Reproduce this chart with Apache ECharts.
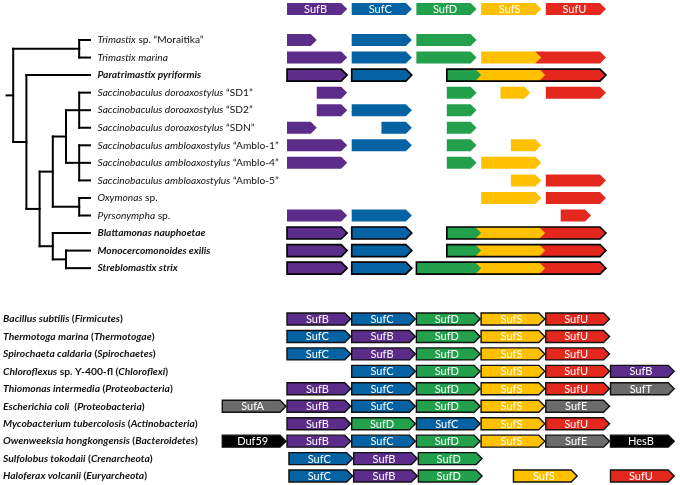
<!DOCTYPE html>
<html><head><meta charset="utf-8">
<script src="https://cdn.jsdelivr.net/npm/echarts@6/dist/echarts.min.js"></script>
<style>html,body{margin:0;padding:0;background:#fff}#c{width:680px;height:485px}</style>
</head><body><div id="c"></div>
<script>
// ---------------- DATA ----------------
const geneNames = ['SufB','SufC','SufD','SufS','SufU','SufE','SufT','SufA','Duf59','HesB'];
const headerGenes = ['SufB','SufC','SufD','SufS','SufU'];

const eukTaxa = [
  '{i|Trimastix} sp. “Moraitika”',
  '{i|Trimastix marina}',
  '{bi|Paratrimastix pyriformis}',
  '{i|Saccinobaculus doroaxostylus} “SD1”',
  '{i|Saccinobaculus doroaxostylus} “SD2”',
  '{i|Saccinobaculus doroaxostylus} “SDN”',
  '{i|Saccinobaculus ambloaxostylus} “Amblo-1”',
  '{i|Saccinobaculus ambloaxostylus} “Amblo-4”',
  '{i|Saccinobaculus ambloaxostylus} “Amblo-5”',
  '{i|Oxymonas} sp.',
  '{i|Pyrsonympha} sp.',
  '{bi|Blattamonas nauphoetae}',
  '{bi|Monocercomonoides exilis}',
  '{bi|Streblomastix strix}'
];
// cladogram: leaves are row indices of eukTaxa, number after ')' is the node level
const treeNewick = '((0,1)5,(2,((((3,4,5)5,(6,7,8)5)4,(9,10)5)3,(11,(12,13)4)3)2)1)0';
const tipLevel = 5.82;

// gene pieces per eukaryote row: [gene, start, end] in gene-slot units
const eukLoci = [
  [['SufB',0,0.46],['SufC',1,1.93],['SufD',2,2.93]],
  [['SufB',0,0.93],['SufC',1,1.93],['SufD',2,2.93],['SufS',3,3.93],['SufU',3.93,4.93]],
  [['SufB',0,0.93],['SufC',1,1.93],['SufD',2.47,3.0],['SufS',3.0,3.99],['SufU',3.99,4.93]],
  [['SufB',0.46,0.93],['SufD',2.47,2.93],['SufS',3.3,3.76],['SufU',4,4.93]],
  [['SufB',0.46,0.93],['SufC',1,1.93],['SufD',2.47,2.93]],
  [['SufB',0,0.46],['SufC',1.46,1.93],['SufD',2.47,2.93]],
  [['SufB',0,0.93],['SufC',1,1.93],['SufD',2.47,2.93],['SufS',3.46,3.93]],
  [['SufB',0,0.93],['SufD',2.47,2.93],['SufS',3,3.93]],
  [['SufS',3.46,3.93],['SufU',4,4.93]],
  [['SufS',3,3.93],['SufU',4,4.93]],
  [['SufB',0,0.93],['SufC',1,1.93],['SufU',4.23,4.7]],
  [['SufB',0,0.93],['SufC',1,1.93],['SufD',2.47,3.0],['SufS',3.0,3.99],['SufU',3.99,4.93]],
  [['SufB',0,0.93],['SufC',1,1.93],['SufD',2.47,3.0],['SufS',3.0,3.99],['SufU',3.99,4.93]],
  [['SufB',0,0.93],['SufC',1,1.93],['SufD',2.0,3.0],['SufS',3.0,3.99],['SufU',3.99,4.93]]
];
const boxedRows = [2, 11, 12, 13];

const proTaxa = [
  '{i|Bacillus subtilis} ({i|Firmicutes})',
  '{i|Thermotoga marina} ({i|Thermotogae})',
  '{i|Spirochaeta caldaria} ({i|Spirochaetes})',
  '{i|Chloroflexus} sp. Y-400-fl ({i|Chloroflexi})',
  '{i|Thiomonas intermedia} ({i|Proteobacteria})',
  '{i|Escherichia coli}  ({i|Proteobacteria})',
  '{i|Mycobacterium tubercolosis} ({i|Actinobacteria})',
  '{i|Owenweeksia hongkongensis} ({i|Bacteroidetes})',
  '{i|Sulfolobus tokodaii} ({i|Crenarcheota})',
  '{i|Haloferax volcanii} ({i|Euryarcheota})'
];
// operon per prokaryote row: [gene, slot start]
const proLoci = [
  [['SufB',0],['SufC',1],['SufD',2],['SufS',3],['SufU',4]],
  [['SufC',0],['SufB',1],['SufD',2],['SufS',3],['SufU',4]],
  [['SufC',0],['SufB',1],['SufD',2],['SufS',3],['SufU',4]],
  [['SufC',1],['SufD',2],['SufS',3],['SufU',4],['SufB',5]],
  [['SufB',0],['SufC',1],['SufD',2],['SufS',3],['SufU',4],['SufT',5]],
  [['SufA',-1],['SufB',0],['SufC',1],['SufD',2],['SufS',3],['SufE',4]],
  [['SufB',0],['SufD',1],['SufC',2],['SufS',3],['SufU',4]],
  [['Duf59',-1],['SufB',0],['SufC',1],['SufD',2],['SufS',3],['SufE',4],['HesB',5]],
  [['SufC',0.03],['SufB',1.03],['SufD',2.03]],
  [['SufC',0.03],['SufB',1.03],['SufD',2.03],['SufS',3.5],['SufU',5]]
];

// ---------------- STYLE / LAYOUT ----------------
const geneColors = {SufB:'#5B2C8A', SufC:'#0563A3', SufD:'#22A04B', SufS:'#FFC000', SufU:'#E5281E',
  SufE:'#6B6B6B', SufT:'#6B6B6B', SufA:'#6B6B6B', Duf59:'#000000', HesB:'#000000'};
const FONT = 'Lato';
const UP_FS = 10.2, LO_FS = 10.3;
const TIP = 6, H = 12;
const GX_LEFT = 222.3, GX_W = 452.9;   // gene x axis -1..6
const UP_BAND = 17.55, UP_TOP = 40 - UP_BAND/2, UP_H = 14*UP_BAND;
const LO_BAND = 17.45, LO_TOP = 319 - LO_BAND/2, LO_H = 10*LO_BAND;
const TREE_STEP = 13.2;

function arrowPts(x1,x2,yc,h,tip){
  const t = Math.min(tip, x2-x1);
  return [[x1,yc-h/2],[x2-t,yc-h/2],[x2,yc],[x2-t,yc+h/2],[x1,yc+h/2]];
}

// tree
function parseNewick(s){
  let i = 0;
  function num(){ let n=''; while(i<s.length && /[0-9.]/.test(s[i])) n+=s[i++]; return +n; }
  function node(){
    if (s[i]==='('){
      i++; const children=[node()];
      while(s[i]===','){ i++; children.push(node()); }
      i++;
      return {children, level:num()};
    }
    return {leaf:num()};
  }
  return node();
}
const treeSegs = [];
function layoutTree(n){
  if (!n.children){ n.x = tipLevel; n.y = n.leaf; return; }
  n.children.forEach(layoutTree);
  n.x = n.level;
  const f = n.children[0], l = n.children[n.children.length-1];
  n.y = (f.y + l.y)/2;
  treeSegs.push([n.x, f.y, n.x, l.y]);
  n.children.forEach(c => treeSegs.push([n.x, c.y, c.x, c.y]));
}
const root = parseNewick(treeNewick);
layoutTree(root);
treeSegs.push([-0.5, root.y, 0, root.y]);

// upper pieces
const eukPieceData = [], eukBoxData = [];
eukLoci.forEach((row, r) => {
  const blocks = [];
  row.forEach(p => {
    const last = blocks.length ? blocks[blocks.length-1] : null;
    if (last && Math.abs(last[last.length-1][2] - p[1]) < 1e-9) last.push(p); else blocks.push([p]);
  });
  blocks.forEach(b => {
    for (let k = b.length-1; k >= 0; k--) {
      const p = b[k];
      eukPieceData.push([p[1], r, p[2], geneNames.indexOf(p[0]), k>0 ? 1 : 0]);
    }
    if (boxedRows.includes(r)) eukBoxData.push([b[0][1], r, b[b.length-1][2]]);
  });
});
const proData = [];
proLoci.forEach((row, r) => row.forEach(p => proData.push([p[1], r, geneNames.indexOf(p[0])])));
const headerData = headerGenes.map((g, i) => [i, 0, geneNames.indexOf(g)]);

const richUp = {
  i:{fontStyle:'italic', fontSize:UP_FS, fontFamily:FONT, color:'#111'},
  bi:{fontStyle:'italic', fontWeight:'bold', fontSize:UP_FS, fontFamily:FONT, color:'#111'}
};
const richLo = {
  i:{fontStyle:'italic', fontWeight:'bold', fontSize:LO_FS, fontFamily:FONT, color:'#111'}
};

function labelledArrow(api, x1, x2, yc, fill, stroke, text){
  return {type:'group', children:[
    {type:'polygon', shape:{points:arrowPts(x1,x2,yc,H,TIP)},
      style:{fill:fill, stroke:stroke||null, lineWidth:stroke?1.4:0}},
    {type:'text', style:{text:text, x:(x1+x2-TIP/2)/2, y:yc+0.5, fill:'#fff',
      fontSize:11, fontFamily:FONT, align:'center', verticalAlign:'middle',
      textAlign:'center', textVerticalAlign:'middle'}}
  ]};
}

const hiddenX = (min,max,gi) => ({type:'value', gridIndex:gi, min, max, show:false});

const option = {
  animation:false,
  backgroundColor:'#fff',
  grid:[
    {left:GX_LEFT, width:GX_W, top:3, height:12},
    {left:GX_LEFT, width:GX_W, top:UP_TOP, height:UP_H},
    {left:GX_LEFT, width:GX_W, top:LO_TOP, height:LO_H},
    {left:TREE_STEP/2, width:(tipLevel+0.5)*TREE_STEP, top:UP_TOP, height:UP_H}
  ],
  xAxis:[hiddenX(-1,6,0), hiddenX(-1,6,1), hiddenX(-1,6,2), hiddenX(-0.5,tipLevel,3)],
  yAxis:[
    {type:'value', gridIndex:0, min:-0.5, max:0.5, show:false},
    {type:'category', gridIndex:1, data:eukTaxa, inverse:true,
      axisLine:{show:false}, axisTick:{show:false}, splitLine:{show:false},
      axisLabel:{interval:0, align:'left', margin:GX_LEFT-97.5, fontSize:UP_FS, fontFamily:FONT,
        color:'#111', rich:richUp}},
    {type:'category', gridIndex:2, data:proTaxa, inverse:true,
      axisLine:{show:false}, axisTick:{show:false}, splitLine:{show:false},
      axisLabel:{interval:0, align:'left', margin:GX_LEFT-3, fontSize:LO_FS, fontWeight:'bold',
        fontFamily:FONT, color:'#111', rich:richLo}},
    {type:'value', gridIndex:3, min:-0.5, max:13.5, inverse:true, show:false}
  ],
  series:[
    { // header
      type:'custom', xAxisIndex:0, yAxisIndex:0, data:headerData, encode:{x:0, y:1},
      renderItem:(params, api) => {
        const s = api.value(0), g = geneNames[api.value(2)];
        const p1 = api.coord([s, 0]), p2 = api.coord([s+0.93, 0]);
        return labelledArrow(api, p1[0], p2[0], p1[1], geneColors[g], null, g);
      }
    },
    { // eukaryote pieces
      type:'custom', xAxisIndex:1, yAxisIndex:1, data:eukPieceData, encode:{x:[0,2], y:1},
      renderItem:(params, api) => {
        const s = api.value(0), r = api.value(1), e = api.value(2), g = geneNames[api.value(3)], j = api.value(4);
        const p1 = api.coord([s, r]), p2 = api.coord([e, r]);
        const x1 = j ? p1[0]-TIP : p1[0];
        return {type:'polygon', shape:{points:arrowPts(x1, p2[0], p1[1], H, TIP)}, style:{fill:geneColors[g]}};
      }
    },
    { // boxed outlines
      type:'custom', xAxisIndex:1, yAxisIndex:1, data:eukBoxData, encode:{x:[0,2], y:1}, z:3,
      renderItem:(params, api) => {
        const s = api.value(0), r = api.value(1), e = api.value(2);
        const p1 = api.coord([s, r]), p2 = api.coord([e, r]);
        return {type:'polygon', shape:{points:arrowPts(p1[0], p2[0], p1[1], H, TIP)},
          style:{fill:null, stroke:'#000', lineWidth:1.6}};
      }
    },
    { // prokaryote operons
      type:'custom', xAxisIndex:2, yAxisIndex:2, data:proData, encode:{x:0, y:1},
      renderItem:(params, api) => {
        const s = api.value(0), r = api.value(1), g = geneNames[api.value(2)];
        const p1 = api.coord([s, r]), p2 = api.coord([s+0.985, r]);
        return labelledArrow(api, p1[0], p2[0], p1[1], geneColors[g], '#111', g);
      }
    },
    { // tree
      type:'custom', xAxisIndex:3, yAxisIndex:3, data:treeSegs, encode:{x:[0,2], y:[1,3]},
      renderItem:(params, api) => {
        const a = api.coord([api.value(0), api.value(1)]), b = api.coord([api.value(2), api.value(3)]);
        return {type:'line', shape:{x1:a[0], y1:a[1], x2:b[0], y2:b[1]},
          style:{stroke:'#000', lineWidth:2, lineCap:'square'}};
      }
    }
  ]
};
const chart = echarts.init(document.getElementById('c'));
chart.setOption(option);
</script>
</body></html>
